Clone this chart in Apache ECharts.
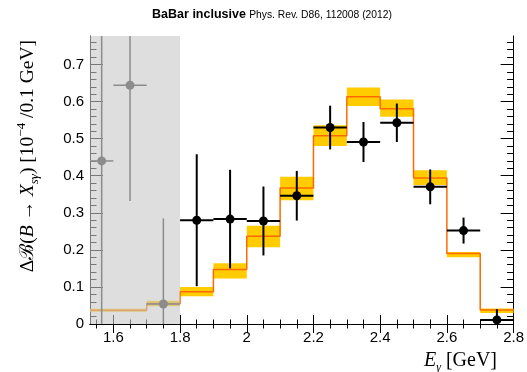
<!DOCTYPE html>
<html>
<head>
<meta charset="utf-8">
<script src="https://cdn.jsdelivr.net/npm/echarts@6/dist/echarts.min.js"></script>
<style>
html,body{margin:0;padding:0;background:#fff;}
#chart{width:527px;height:372px;}
</style>
</head>
<body>
<div id="chart"></div>
<script>
// ---- data ----
var binEdges = [1.53, 1.6, 1.7, 1.8, 1.9, 2.0, 2.1, 2.2, 2.3, 2.4, 2.5, 2.6, 2.7, 2.8];
var dataValues = [0.44, 0.644, 0.054, 0.280, 0.283, 0.278, 0.346, 0.530, 0.491, 0.543, 0.370, 0.252, 0.011];
var dataErrors = [0.55, 0.312, 0.231, 0.178, 0.133, 0.093, 0.067, 0.059, 0.054, 0.052, 0.047, 0.035, 0.029];
var modelValues = [0.037, 0.037, 0.055, 0.087, 0.147, 0.237, 0.367, 0.508, 0.613, 0.581, 0.394, 0.190, 0.038];
var modelLow   = [0.033, 0.033, 0.048, 0.075, 0.123, 0.207, 0.334, 0.480, 0.588, 0.559, 0.375, 0.180, 0.030];
var modelHigh  = [0.041, 0.041, 0.063, 0.100, 0.164, 0.265, 0.397, 0.536, 0.638, 0.606, 0.415, 0.194, 0.042];
var excludedBelow = 1.8;
var xMajorTicks = [1.6, 1.8, 2.0, 2.2, 2.4, 2.6, 2.8];
var yMajorTicks = [0, 0.1, 0.2, 0.3, 0.4, 0.5, 0.6, 0.7];
var xMin = 1.53, xMax = 2.8, yMin = 0, yMax = 0.777;

var xMinorTicks = [];
for (var i = 31; i <= 56; i++) xMinorTicks.push(+(i * 0.05).toFixed(2));
var yMinorTicks = [];
for (var j = 0; j <= 38; j++) yMinorTicks.push(+(j * 0.02).toFixed(2));

// ---- derived series data ----
var bandData = [], stepData = [], pointData = [];
for (var k = 0; k < modelValues.length; k++) {
  var lo = binEdges[k], hi = binEdges[k + 1];
  bandData.push([lo, hi, modelLow[k], modelHigh[k]]);
  stepData.push([lo, modelValues[k]]);
  stepData.push([hi, modelValues[k]]);
  pointData.push([(lo + hi) / 2, dataValues[k], dataErrors[k], (hi - lo) / 2, hi <= excludedBelow ? 1 : 0]);
}

var SANS = "'Liberation Sans', Arial, Helvetica, sans-serif";
var SERIF = "'Liberation Serif', 'DejaVu Serif', 'Times New Roman', serif";

function clampY(v) { return Math.max(yMin, Math.min(yMax, v)); }

function tickAxis(pos, values, len, showLine, labels) {
  return {
    type: 'value', min: xMin, max: xMax, position: pos,
    axisLine: { show: showLine, lineStyle: { color: '#000', width: 1 } },
    axisTick: { show: true, inside: true, length: len, customValues: values, lineStyle: { color: '#000', width: 1 } },
    axisLabel: labels ? { show: true, customValues: xMajorTicks, margin: 6, color: '#000', fontSize: 15, fontFamily: SANS } : { show: false },
    splitLine: { show: false }
  };
}
function tickYAxis(pos, values, len, showLine, labels) {
  return {
    type: 'value', min: yMin, max: yMax, position: pos,
    axisLine: { show: showLine, lineStyle: { color: '#000', width: 1 } },
    axisTick: { show: true, inside: true, length: len, customValues: values, lineStyle: { color: '#000', width: 1 } },
    axisLabel: labels ? { show: true, customValues: yMajorTicks, margin: 6, color: '#000', fontSize: 15, fontFamily: SANS } : { show: false },
    splitLine: { show: false }
  };
}

var chart = echarts.init(document.getElementById('chart'), null, { renderer: 'canvas' });
chart.setOption({
  animation: false,
  backgroundColor: '#fff',
  grid: { left: 90, right: 13, top: 36, bottom: 48, containLabel: false },
  xAxis: [
    tickAxis('bottom', xMajorTicks, 9, true, true),
    tickAxis('bottom', xMinorTicks, 4.5, false, false),
    tickAxis('top', xMajorTicks, 9, true, false),
    tickAxis('top', xMinorTicks, 4.5, false, false)
  ],
  yAxis: [
    tickYAxis('left', yMajorTicks, 13, true, true),
    tickYAxis('left', yMinorTicks, 6.5, false, false),
    tickYAxis('right', yMajorTicks, 13, true, false),
    tickYAxis('right', yMinorTicks, 6.5, false, false)
  ],
  graphic: [
    {
      type: 'text', x: 272, y: 15, z: 100,
      style: {
        text: '{b|BaBar inclusive} {n|Phys. Rev. D86, 112008 (2012)}',
        align: 'center', verticalAlign: 'middle',
        rich: {
          b: { fontFamily: SANS, fontWeight: 'bold', fontSize: 12.5, fill: '#000' },
          n: { fontFamily: SANS, fontSize: 10.3, fill: '#000' }
        }
      }
    },
    {
      type: 'text', x: 28, y: 40, rotation: Math.PI / 2, z: 100,
      style: {
        text: '{r|\u0394\u212C(}{i|B}{r| \u2192 }{i|X}{s|s\u03B3}{r|) [10}{p|\u22124}{r| /0.1 GeV]}',
        align: 'right', verticalAlign: 'middle',
        rich: {
          r: { fontFamily: SERIF, fontSize: 19.5, lineHeight: 26, fill: '#000' },
          i: { fontFamily: SERIF, fontStyle: 'italic', fontSize: 19.5, lineHeight: 26, fill: '#000' },
          s: { fontFamily: SERIF, fontStyle: 'italic', fontSize: 13, lineHeight: 13, verticalAlign: 'bottom', fill: '#000' },
          p: { fontFamily: SERIF, fontSize: 13, lineHeight: 13, verticalAlign: 'top', fill: '#000' }
        }
      }
    },
    {
      type: 'text', x: 497, y: 361, z: 100,
      style: {
        text: '{i|E}{s|\u03B3}{r| [GeV]}',
        align: 'right', verticalAlign: 'middle',
        rich: {
          r: { fontFamily: SERIF, fontSize: 20, lineHeight: 26, fill: '#000' },
          i: { fontFamily: SERIF, fontStyle: 'italic', fontSize: 20, lineHeight: 26, fill: '#000' },
          s: { fontFamily: SERIF, fontStyle: 'italic', fontSize: 12, lineHeight: 12, verticalAlign: 'bottom', fill: '#000' }
        }
      }
    }
  ],
  series: [
    {
      name: 'band', type: 'custom', z: 1, clip: true,
      data: bandData,
      renderItem: function (params, api) {
        var p1 = api.coord([api.value(0), api.value(3)]);
        var p2 = api.coord([api.value(1), api.value(2)]);
        return { type: 'rect', shape: { x: p1[0], y: p1[1], width: p2[0] - p1[0], height: p2[1] - p1[1] }, style: { fill: '#ffcc00' } };
      }
    },
    {
      name: 'model', type: 'line', z: 2, data: stepData, symbol: 'none',
      lineStyle: { color: '#ff6a00', width: 1.5 }
    },
    {
      name: 'excluded', type: 'custom', z: 3,
      data: [[xMin, excludedBelow]],
      renderItem: function (params, api) {
        var cs = params.coordSys;
        var a = api.coord([api.value(0), yMin]);
        var b = api.coord([api.value(1), yMin]);
        return { type: 'rect', shape: { x: a[0], y: cs.y, width: b[0] - a[0], height: cs.height }, style: { fill: 'rgba(200,200,200,0.6)' } };
      }
    },
    {
      name: 'data', type: 'custom', z: 4, clip: true,
      data: pointData,
      renderItem: function (params, api) {
        var x = api.value(0), y = api.value(1), e = api.value(2), hw = api.value(3), ex = api.value(4);
        var col = ex ? '#8c8c8c' : '#000';
        var lw = ex ? 1.5 : 2;
        var c = api.coord([x, y]);
        var top = api.coord([x, clampY(y + e)]);
        var bot = api.coord([x, clampY(y - e)]);
        var l = api.coord([x - hw, y]);
        var r = api.coord([x + hw, y]);
        return {
          type: 'group',
          children: [
            { type: 'line', shape: { x1: top[0], y1: top[1], x2: bot[0], y2: bot[1] }, style: { stroke: col, lineWidth: lw } },
            { type: 'line', shape: { x1: l[0], y1: l[1], x2: r[0], y2: r[1] }, style: { stroke: col, lineWidth: lw } },
            { type: 'circle', shape: { cx: c[0], cy: c[1], r: 4.5 }, style: { fill: col } }
          ]
        };
      }
    }
  ]
});
</script>
</body>
</html>
